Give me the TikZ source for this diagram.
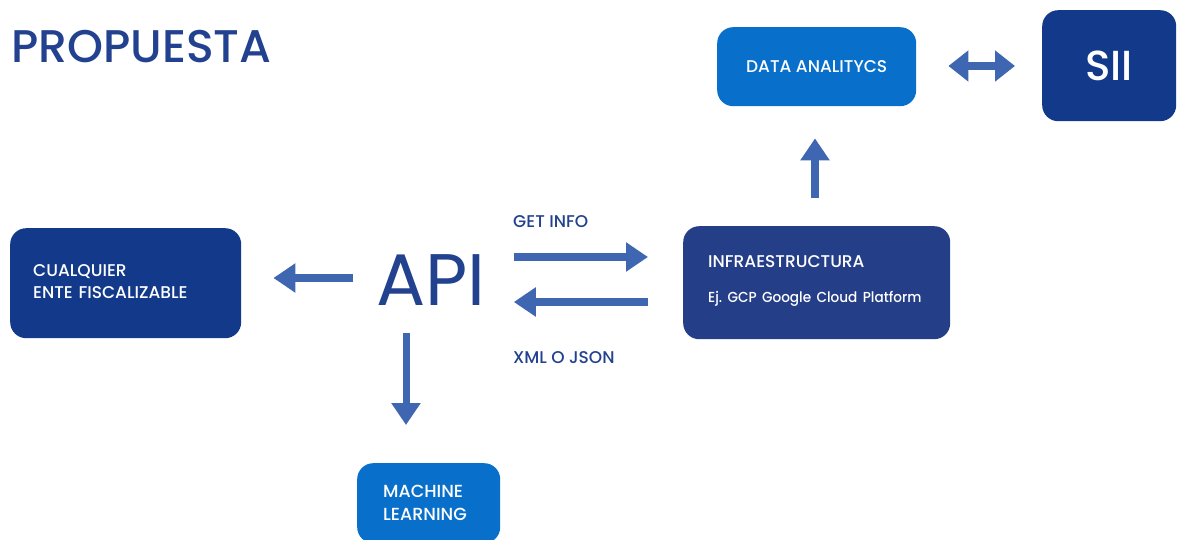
\documentclass[tikz,border=0pt]{standalone}
\usepackage{fontspec}
\setmainfont{Poppins}
\newfontfamily\pmed{Poppins Medium}
\usetikzlibrary{arrows.meta}
\definecolor{brightblue}{HTML}{0870CA}
\definecolor{navy}{HTML}{133A8A}
\definecolor{infrablue}{HTML}{253E88}
\definecolor{arrowblue}{HTML}{3F66B1}
\definecolor{textblue}{HTML}{22418E}
\begin{document}
\begin{tikzpicture}[x=1pt,y=-1pt,
  box/.style={rounded corners=16pt, anchor=north west, text=white, inner ysep=0pt,
    font=\pmed\fontsize{17}{22}\selectfont},
  arr/.style={draw=arrowblue, line width=8pt, -{Triangle[width=28pt,length=22pt]}},
  darr/.style={draw=arrowblue, line width=8pt, {Triangle[width=30pt,length=20pt]}-{Triangle[width=30pt,length=20pt]}},
  lbl/.style={anchor=base west, inner sep=0pt, text=textblue, font=\pmed\fontsize{17}{20}\selectfont}
]
\useasboundingbox (0,0) rectangle (1178,540);
\clip (0,0) rectangle (1178,540);

\node[lbl, font=\pmed\fontsize{45.8}{50}\selectfont] (title) at (11,63) {PROPUESTA};

\node[box, fill=brightblue, minimum width=199pt, minimum height=79pt, inner xsep=0pt, align=center] (data) at (717,27) {DATA ANALITYCS};
\node[box, fill=navy, minimum width=134pt, minimum height=111pt, inner xsep=0pt, font=\pmed\fontsize{42}{46}\selectfont] (sii) at (1042,10) {SII};

\node[box, fill=navy, minimum width=231pt, minimum height=110pt, inner xsep=23pt, text width=185pt, align=left] (cual) at (10,228) {CUALQUIER\\ENTE FISCALIZABLE\rule[-4pt]{0pt}{4pt}};

\node[box, fill=infrablue, minimum width=267pt, minimum height=113pt, inner xsep=25pt, text width=217pt, align=left] (infra) at (683,226) {INFRAESTRUCTURA\\[13pt]\mbox{\fontsize{14.5}{18}\selectfont\scalebox{0.94}[1]{Ej.\ GCP Google Cloud Platform}}\rule[-8pt]{0pt}{8pt}};

\node[box, fill=brightblue, minimum width=143pt, minimum height=80pt, inner xsep=26pt, text width=91pt, align=left, font=\pmed\fontsize{17.5}{23}\selectfont] (ml) at (357,463) {MACHINE\\LEARNING};

\node[lbl, font=\fontsize{73}{80}\selectfont] (api) at (376,305) {API};
\node[lbl] (get) at (513,228) {GET INFO};
\node[lbl] (xml) at (513,363) {XML O JSON};

\draw[arr, shorten <=23pt, shorten >=32pt] (api.west |- 0,278) -- (cual.east |- 0,278);
\draw[arr, shorten <=28pt, shorten >=35pt] (api.east |- 0,257) -- (infra.west |- 0,257);
\draw[arr, shorten <=35pt, shorten >=28pt] (infra.west |- 0,302) -- (api.east |- 0,302);
\draw[arr, line width=7pt, shorten <=28pt, shorten >=38pt] (api.south -| 406,0) -- (ml.north -| 406,0);
\draw[arr, shorten <=28pt, shorten >=32pt] (infra.north -| 815,0) -- (data.south -| 815,0);
\draw[darr, shorten <=32pt, shorten >=27pt] (data.east |- 0,66) -- (sii.west |- 0,66);
\end{tikzpicture}
\end{document}
